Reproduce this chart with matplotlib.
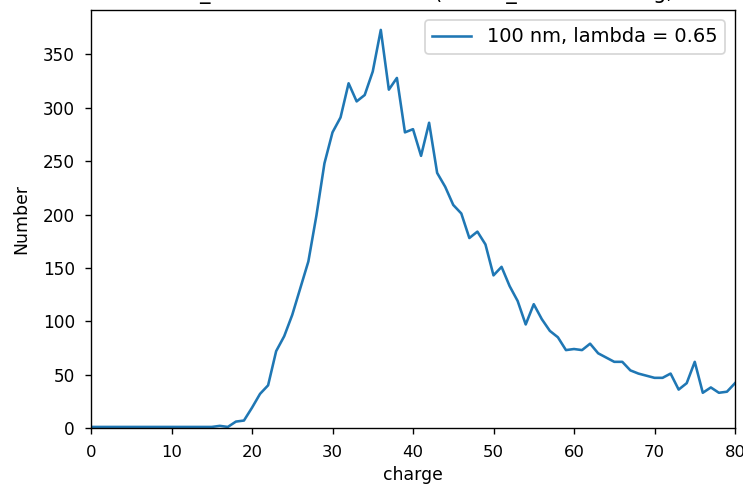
import matplotlib
matplotlib.use("Agg")
import matplotlib.pyplot as plt

charge = list(range(0, 81))
number = [1, 1, 1, 1, 1, 1, 1, 1, 1, 1,
          1, 1, 1, 1, 1, 1, 2, 1, 6, 7,
          19, 32, 40, 72, 86, 106, 131, 156, 199, 248,
          277, 291, 323, 306, 312, 334, 373, 317, 328, 277,
          280, 255, 286, 239, 226, 209, 201, 178, 184, 172,
          143, 151, 133, 119, 97, 116, 102, 91, 85, 73,
          74, 73, 79, 70, 66, 62, 62, 54, 51, 49,
          47, 47, 51, 36, 42, 62, 33, 38, 33, 34, 42]
series_label = "100 nm, lambda = 0.65"
title_text = "Number_distribution at 50 nm (radius_50 nm binning, lambda"

W, H = 743, 489
DPI = 72 * 743 / 432
fig = plt.figure(figsize=(W / DPI, H / DPI), dpi=DPI)
ax = fig.add_axes([91 / W, 61 / H, (735 - 91) / W, (428 - 10) / H])
ax.plot(charge, number, color="#1f77b4", linewidth=1.5, label=series_label)
ax.set_xlim(0, 80)
ax.set_ylim(0, max(number) * 1.05)
ax.set_xlabel("charge", fontsize=10, labelpad=3.5)
ax.set_ylabel("Number", fontsize=10, labelpad=7.5)
ax.tick_params(axis="x", labelsize=9.6, pad=6.5)
ax.tick_params(axis="y", labelsize=9.8, pad=5.8)
ax.legend(loc="upper right", fontsize=11.3)
fig.text(117 / W, 1.0 + 1.5 / H, title_text, ha="left", va="baseline", fontsize=12)
fig.savefig("out.png", dpi=DPI)
